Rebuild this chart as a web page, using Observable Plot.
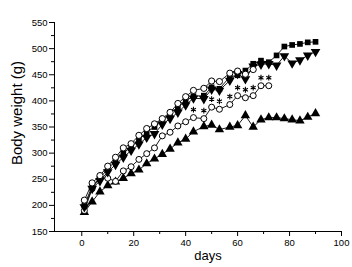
<!DOCTYPE html>
<html><head><meta charset="utf-8">
<script src="https://cdn.jsdelivr.net/npm/d3@7"></script>
<script src="https://cdn.jsdelivr.net/npm/@observablehq/plot@0.6"></script>
<style>body{margin:0;background:#fff}svg{display:block}</style>
</head><body><div id="chart"></div>
<script>
const days = [1,4,7,10,13,16,19,22,25,28,31,34,37,40,43,47,50,53,57,60,63,66,69,72,75,78,81,84,87,90];
const squares = [200,237,252,270,285,300,312,325,340,350,362,376,388,400,409,410,426,423,446,449,458,471,477,474,487,504,507,509,512,513];
const downTriangles = [197,232,247,264,278,292,305,317,330,337,355,366,378,392,405,404,422,420,439,452,442,466,470,471,468,486,472,478,487,494];
const openTop = [210,243,257,275,292,310,318,334,347,356,366,378,395,408,420,424,438,437,453,457,451,460];
const openStar = [190,232,254,252,246,266,274,288,299,310,333,340,352,360,368,366,388,384,393,410,406,410,429,429];
const upTriangles = [187,207,226,238,245,252,261,268,280,289,298,308,320,327,341,351,354,345,350,353,372,350,364,368,368,366,364,362,369,376];
const starDays = [43,47,50,53,57,60,63,66,69,72];
const xTicks = [0,20,40,60,80,100];
const yTicks = [150,200,250,300,350,400,450,500,550];

const rows = (vals) => vals.map((v,i)=>({day: days[i], w: v}));
const S = rows(squares), D = rows(downTriangles), O = rows(openTop), M = rows(openStar), T = rows(upTriangles);
const stars = M.filter(d => starDays.includes(d.day));

const sqrt3 = Math.sqrt(3);
const triangleDown = {draw(ctx, size){
  const y = -Math.sqrt(size / (sqrt3 * 3));
  ctx.moveTo(0, -y*2); ctx.lineTo(sqrt3*y, y); ctx.lineTo(-sqrt3*y, y); ctx.closePath();
}};

const lineOpt = {x:"day", y:"w", stroke:"#000", strokeWidth:0.9};
const chart = Plot.plot({
  width: 352, height: 267,
  marginLeft: 54, marginRight: 11, marginTop: 22, marginBottom: 36,
  style: {fontFamily: "Liberation Sans, Arial, sans-serif", fontSize: "9.5px", color:"#000", background:"#fff"},
  x: {domain: [-10.5, 100]},
  y: {domain: [150, 550]},
  marks: [
    Plot.axisX({ticks: xTicks, tickSize: 5, tickPadding: 3, label: null, fontSize: 9.5}),
    Plot.axisX({ticks: [10,30,50,70,90], tickSize: 3, text: null, label: null}),
    Plot.axisY({ticks: yTicks, tickSize: 5, tickPadding: 2, label: null, fontSize: 9.5}),
    Plot.axisY({ticks: [175,225,275,325,375,425,475,525], tickSize: 3, text: null, label: null}),
    Plot.ruleY([150], {stroke:"#000", strokeWidth:1}),
    Plot.ruleX([-10.5], {stroke:"#000", strokeWidth:1}),
    Plot.line(T, lineOpt),
    Plot.line(M, lineOpt),
    Plot.line(D, lineOpt),
    Plot.line(S, lineOpt),
    Plot.line(O, lineOpt),
    Plot.dot(T, {x:"day", y:"w", symbol:"triangle", r:3.5, fill:"#000", stroke:"none"}),
    Plot.dot(M, {x:"day", y:"w", symbol:"circle", r:3, fill:"#fff", stroke:"#000", strokeWidth:1}),
    Plot.dot(stars, {x:"day", y:"w", symbol:"asterisk", r:2.7, stroke:"#000", strokeWidth:1.1, dy:-8}),
    Plot.dot(D, {x:"day", y:"w", symbol:triangleDown, r:3.6, fill:"#000", stroke:"none"}),
    Plot.dot(S, {x:"day", y:"w", symbol:"square", r:3.2, fill:"#000", stroke:"none"}),
    Plot.dot(O, {x:"day", y:"w", symbol:"circle", r:3.1, fill:"#fff", stroke:"#000", strokeWidth:1}),
    Plot.text(["Body weight (g)"], {frameAnchor:"left", textAnchor:"middle", rotate:-90, dx:-37, dy:-14, fontSize:15, fill:"#000"}),
    Plot.text(["days"], {frameAnchor:"bottom", dx:10, dy:28, fontSize:13, fill:"#000"})
  ]
});
document.getElementById("chart").appendChild(chart);
</script>
</body></html>
